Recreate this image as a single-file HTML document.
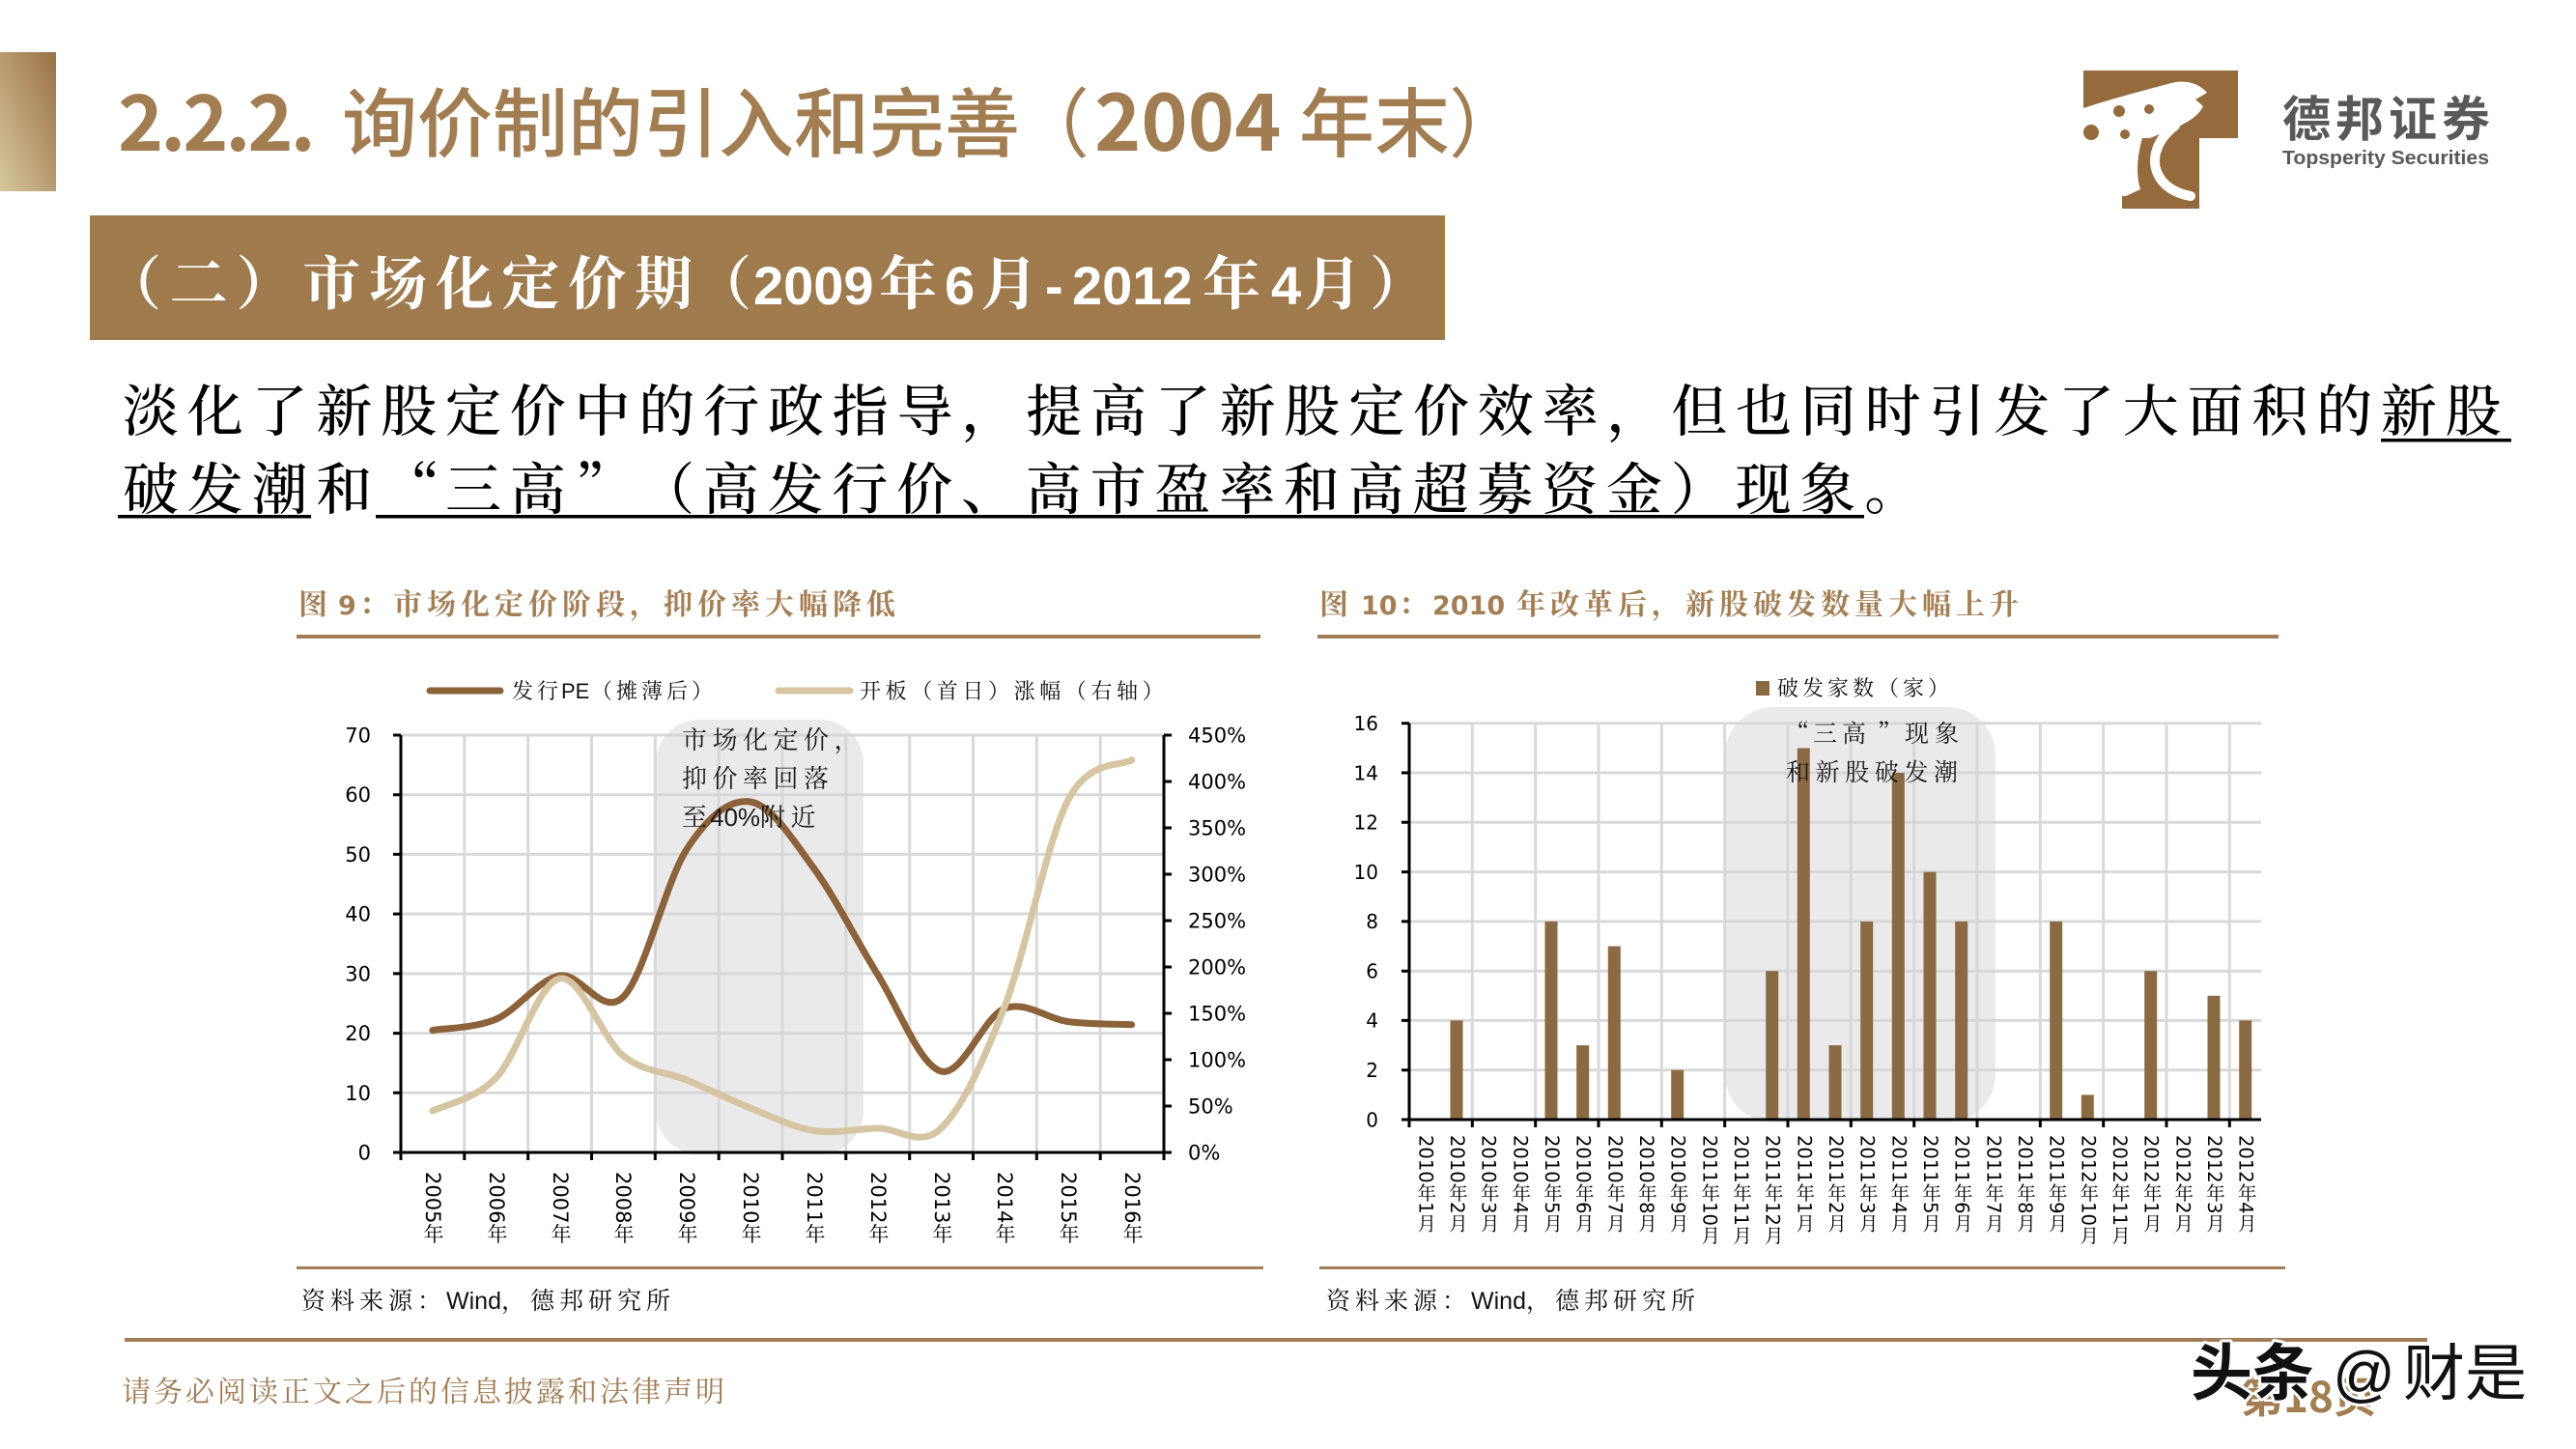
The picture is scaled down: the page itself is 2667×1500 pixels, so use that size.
<!DOCTYPE html>
<html><head><meta charset="utf-8">
<style>
html,body{margin:0;padding:0;background:#fff;}
#wrap{position:relative;width:2667px;height:1500px;overflow:hidden;background:#fff;}
.vl{position:absolute;writing-mode:vertical-rl;white-space:nowrap;font-family:"DejaVu Sans","Noto Serif CJK SC",serif;color:#000;}
.a{top:1213px;width:24px;line-height:24px;font-size:21px;}
.b{top:1175px;width:22px;line-height:22px;font-size:19.5px;}
</style></head>
<body><div id="wrap">
<svg width="2667" height="1500" viewBox="0 0 2667 1500" xmlns="http://www.w3.org/2000/svg" style="position:absolute;left:0;top:0">
<defs><linearGradient id="g1" x1="1" y1="0" x2="0" y2="1"><stop offset="0" stop-color="#9a7144"/><stop offset="1" stop-color="#d6c79f"/></linearGradient></defs>
<rect x="0" y="54" width="58" height="144" fill="url(#g1)"/>
<!-- Title -->
<g font-family="'Noto Sans CJK SC',sans-serif" fill="#a27d52">
<text x="122" y="156" font-size="80" font-weight="700" letter-spacing="-3">2.2.2.</text>
<text x="354" y="156" font-size="78" font-weight="500">询价制的引入和完善</text>
<text x="1128" y="156" font-size="78" text-anchor="end">（</text>
<text x="1133" y="156" font-size="82" font-weight="700">2004</text>
<text x="1345" y="156" font-size="78" font-weight="500">年末</text>
<text x="1500" y="156" font-size="78">）</text>
</g>
<!-- Logo -->
<path fill="#956a3d" d="M2157,73 H2317 V143 H2277 V216 H2197 V143 H2157 Z"/>
<path fill="#fff" d="M2157,112 C2190,101 2222,93 2248,86 C2262,82 2277,86 2285,96 L2273,103 L2281,110 C2276,120 2266,126 2255,131 L2226,143 L2157,143 Z"/>
<path fill="none" stroke="#fff" stroke-width="10" stroke-linecap="round" d="M2252,130 C2231,146 2224,170 2239,188 C2247,197 2257,201 2268,203"/>
<path fill="#fff" d="M2197,143 L2218,143 C2213,160 2211,180 2216,196 L2201,203 L2197,203 Z"/>
<g fill="#956a3d"><circle cx="2165" cy="137" r="8"/><circle cx="2194" cy="115" r="6"/><circle cx="2225" cy="113" r="5"/><circle cx="2200" cy="139" r="5"/></g>
<text x="2363" y="141" font-family="'Noto Sans CJK SC',sans-serif" font-weight="700" font-size="50" letter-spacing="5" fill="#595959">德邦证券</text>
<text x="2363" y="170" font-family="'Liberation Sans',sans-serif" font-weight="700" font-size="20" fill="#595959" textLength="214" lengthAdjust="spacingAndGlyphs">Topsperity Securities</text>
<!-- Subtitle bar -->
<rect x="93" y="223" width="1403" height="129" fill="#9e7a4d"/>
<g fill="#fff" font-weight="700">
<text x="107" y="315" font-family="'Noto Serif CJK SC',serif" font-size="60" letter-spacing="8.75">（二）市场化定价期</text>
<text x="778" y="315" font-family="'Noto Serif CJK SC',serif" font-size="60" text-anchor="end">（</text>
<text x="780" y="315" font-family="'Liberation Sans',sans-serif" font-size="56">2009</text>
<text x="910" y="315" font-family="'Noto Serif CJK SC',serif" font-size="60">年</text>
<text x="978" y="315" font-family="'Liberation Sans',sans-serif" font-size="56">6</text>
<text x="1015" y="315" font-family="'Noto Serif CJK SC',serif" font-size="60">月</text>
<text x="1082" y="315" font-family="'Liberation Sans',sans-serif" font-size="56">-</text>
<text x="1110" y="315" font-family="'Liberation Sans',sans-serif" font-size="56">2012</text>
<text x="1245" y="315" font-family="'Noto Serif CJK SC',serif" font-size="60">年</text>
<text x="1316" y="315" font-family="'Liberation Sans',sans-serif" font-size="56">4</text>
<text x="1350" y="315" font-family="'Noto Serif CJK SC',serif" font-size="60">月</text>
<text x="1418" y="315" font-family="'Noto Serif CJK SC',serif" font-size="60">）</text>
</g>
<!-- Body text -->
<g font-family="'Noto Serif CJK SC',serif" font-size="58" font-weight="500" fill="#000">
<text x="127" y="446" letter-spacing="8.8">淡化了新股定价中的行政指导，提高了新股定价效率，但也同时引发了大面积的新股</text>
<text x="127" y="527" letter-spacing="8.8">破发潮和</text>
<text x="455" y="527" text-anchor="end">“</text>
<text x="461" y="527" letter-spacing="8.8">三高</text>
<text x="596" y="527">”</text>
<text x="661" y="527" letter-spacing="8.8">（高发行价、高市盈率和高超募资金）现象。</text>
</g>
<rect x="2465" y="454" width="135" height="3.5" fill="#000"/>
<rect x="122" y="533" width="200" height="3.5" fill="#000"/>
<rect x="389" y="533" width="1541" height="3.5" fill="#000"/>

<!-- Chart titles -->
<g font-weight="700" fill="#a47f56">
<text x="309" y="636" font-family="'Noto Serif CJK SC',serif" font-size="30">图</text>
<text x="350" y="636" font-family="'DejaVu Sans',sans-serif" font-size="27">9</text>
<text x="372" y="636" font-family="'Noto Serif CJK SC',serif" font-size="30">：</text>
<text x="407" y="636" font-family="'Noto Serif CJK SC',serif" font-size="30" letter-spacing="5">市场化定价阶段，抑价率大幅降低</text>
<text x="1366" y="636" font-family="'Noto Serif CJK SC',serif" font-size="30">图</text>
<text x="1409" y="636" font-family="'DejaVu Sans',sans-serif" font-size="27">10</text>
<text x="1448" y="636" font-family="'Noto Serif CJK SC',serif" font-size="30">：</text>
<text x="1483" y="636" font-family="'DejaVu Sans',sans-serif" font-size="27">2010</text>
<text x="1570" y="636" font-family="'Noto Serif CJK SC',serif" font-size="30" letter-spacing="5">年改革后，新股破发数量大幅上升</text>
</g>
<g fill="#a17d59">
<rect x="307" y="657" width="998" height="4"/>
<rect x="1364" y="657" width="995" height="4"/>
<rect x="307" y="1311" width="1001" height="3"/>
<rect x="1366" y="1311" width="1000" height="3"/>
<rect x="129" y="1385" width="2384" height="4"/>
</g>

<!-- LEFT CHART -->
<g stroke="#d9d9d9" stroke-width="3">
<line x1="415" y1="1131.3" x2="1205" y2="1131.3"/>
<line x1="415" y1="1069.6" x2="1205" y2="1069.6"/>
<line x1="415" y1="1007.9" x2="1205" y2="1007.9"/>
<line x1="415" y1="946.1" x2="1205" y2="946.1"/>
<line x1="415" y1="884.4" x2="1205" y2="884.4"/>
<line x1="415" y1="822.7" x2="1205" y2="822.7"/>
<line x1="415" y1="761" x2="1205" y2="761"/>
<line x1="480.8" y1="761" x2="480.8" y2="1193"/>
<line x1="546.7" y1="761" x2="546.7" y2="1193"/>
<line x1="612.5" y1="761" x2="612.5" y2="1193"/>
<line x1="678.3" y1="761" x2="678.3" y2="1193"/>
<line x1="744.2" y1="761" x2="744.2" y2="1193"/>
<line x1="810" y1="761" x2="810" y2="1193"/>
<line x1="875.8" y1="761" x2="875.8" y2="1193"/>
<line x1="941.7" y1="761" x2="941.7" y2="1193"/>
<line x1="1007.5" y1="761" x2="1007.5" y2="1193"/>
<line x1="1073.3" y1="761" x2="1073.3" y2="1193"/>
<line x1="1139.2" y1="761" x2="1139.2" y2="1193"/>
</g>
<rect x="679" y="745" width="215" height="450" rx="45" ry="45" fill="#d6d6d6" fill-opacity="0.5"/>
<path fill="none" stroke="#8b6239" stroke-width="7" stroke-linecap="round" stroke-linejoin="round"
d="M447.9,1066.5 C458.9,1064.6 491.8,1064.4 513.7,1055 C535.6,1045.6 557.6,1013.8 579.5,1010 C601.4,1006.2 623.4,1053.8 645.3,1032 C667.2,1010.2 689.2,912.7 711.1,879 C733,845.3 755,826.7 776.9,830 C798.8,833.3 820.8,869.25 842.7,899 C864.6,928.75 886.6,973.5 908.5,1008.5 C930.4,1043.5 952.4,1103.1 974.3,1109 C996.2,1114.9 1018.2,1052.6 1040.1,1044 C1062,1035.4 1084,1054.8 1105.9,1057.6 C1127.8,1060.4 1160.7,1060.2 1171.7,1060.7"/>
<path fill="none" stroke="#d6c5a2" stroke-width="7" stroke-linecap="round" stroke-linejoin="round"
d="M447.9,1150 C458.9,1144.3 491.8,1138.4 513.7,1115.6 C535.6,1092.8 557.6,1016.8 579.5,1013 C601.4,1009.2 623.4,1075.5 645.3,1093 C667.2,1110.5 689.2,1109 711.1,1118 C733,1127 755,1138.25 776.9,1147 C798.8,1155.75 820.8,1167 842.7,1170.5 C864.6,1174 886.6,1168.4 908.5,1168 C930.4,1167.6 952.4,1189 974.3,1168 C996.2,1147 1018.2,1098.7 1040.1,1042 C1062,985.3 1084,870.5 1105.9,828 C1127.8,785.5 1160.7,793.7 1171.7,786.8"/>
<g stroke="#000" stroke-width="3" fill="none">
<line x1="415" y1="761" x2="415" y2="1194.5"/>
<line x1="1205" y1="761" x2="1205" y2="1194.5"/>
<line x1="413.5" y1="1193" x2="1206.5" y2="1193"/>
<path d="M407,761H415M407,822.7H415M407,884.4H415M407,946.1H415M407,1007.9H415M407,1069.6H415M407,1131.3H415M407,1193H415"/>
<path d="M1205,761H1213M1205,809H1213M1205,857H1213M1205,905H1213M1205,953H1213M1205,1001H1213M1205,1049H1213M1205,1097H1213M1205,1145H1213M1205,1193H1213"/>
<path d="M415,1193V1201M480.8,1193V1201M546.7,1193V1201M612.5,1193V1201M678.3,1193V1201M744.2,1193V1201M810,1193V1201M875.8,1193V1201M941.7,1193V1201M1007.5,1193V1201M1073.3,1193V1201M1139.2,1193V1201M1205,1193V1201"/>
</g>
<g font-family="'DejaVu Sans',sans-serif" font-size="21" fill="#000" text-anchor="end">
<text x="384" y="1200.5">0</text><text x="384" y="1138.8">10</text><text x="384" y="1077.1">20</text><text x="384" y="1015.4">30</text><text x="384" y="953.6">40</text><text x="384" y="891.9">50</text><text x="384" y="830.2">60</text><text x="384" y="768.5">70</text>
</g>
<g font-family="'DejaVu Sans',sans-serif" font-size="21" fill="#000">
<text x="1230" y="1200.5">0%</text><text x="1230" y="1152.5">50%</text><text x="1230" y="1104.5">100%</text><text x="1230" y="1056.5">150%</text><text x="1230" y="1008.5">200%</text><text x="1230" y="960.5">250%</text><text x="1230" y="912.5">300%</text><text x="1230" y="864.5">350%</text><text x="1230" y="816.5">400%</text><text x="1230" y="768.5">450%</text>
</g>
<!-- left legend -->
<line x1="445" y1="715" x2="518" y2="715" stroke="#8b6239" stroke-width="7" stroke-linecap="round"/>
<line x1="806" y1="715" x2="880" y2="715" stroke="#d6c5a2" stroke-width="7" stroke-linecap="round"/>
<g font-family="'Noto Serif CJK SC',serif" font-size="22" fill="#111">
<text x="530" y="723" letter-spacing="4">发行</text>
<text x="581" y="723" font-family="'Liberation Sans',sans-serif">PE</text>
<text x="612" y="723" letter-spacing="4">（摊薄后）</text>
<text x="890" y="723" letter-spacing="4.6">开板（首日）涨幅（右轴）</text>
</g>
<!-- left annotation -->
<g font-family="'Noto Serif CJK SC',serif" font-size="26" fill="#1a1a1a" letter-spacing="5.5">
<text x="706" y="775">市场化定价，</text>
<text x="706" y="815">抑价率回落</text>
<text x="706" y="855">至</text>
<text x="735" y="855" font-family="'Liberation Sans',sans-serif" letter-spacing="0">40%</text>
<text x="787" y="855">附近</text>
</g>

<!-- RIGHT CHART -->
<g stroke="#d9d9d9" stroke-width="3">
<line x1="1459" y1="1107.7" x2="2341" y2="1107.7"/>
<line x1="1459" y1="1056.4" x2="2341" y2="1056.4"/>
<line x1="1459" y1="1005.2" x2="2341" y2="1005.2"/>
<line x1="1459" y1="953.9" x2="2341" y2="953.9"/>
<line x1="1459" y1="902.6" x2="2341" y2="902.6"/>
<line x1="1459" y1="851.3" x2="2341" y2="851.3"/>
<line x1="1459" y1="800" x2="2341" y2="800"/>
<line x1="1459" y1="748.8" x2="2341" y2="748.8"/>
<line x1="1524.3" y1="748.8" x2="1524.3" y2="1159"/>
<line x1="1589.7" y1="748.8" x2="1589.7" y2="1159"/>
<line x1="1655" y1="748.8" x2="1655" y2="1159"/>
<line x1="1720.3" y1="748.8" x2="1720.3" y2="1159"/>
<line x1="1785.7" y1="748.8" x2="1785.7" y2="1159"/>
<line x1="1851" y1="748.8" x2="1851" y2="1159"/>
<line x1="1916.3" y1="748.8" x2="1916.3" y2="1159"/>
<line x1="1981.7" y1="748.8" x2="1981.7" y2="1159"/>
<line x1="2047" y1="748.8" x2="2047" y2="1159"/>
<line x1="2112.3" y1="748.8" x2="2112.3" y2="1159"/>
<line x1="2177.7" y1="748.8" x2="2177.7" y2="1159"/>
<line x1="2243" y1="748.8" x2="2243" y2="1159"/>
<line x1="2308.3" y1="748.8" x2="2308.3" y2="1159"/>
</g>
<rect x="1786" y="732" width="280" height="430" rx="50" ry="50" fill="#d6d6d6" fill-opacity="0.5"/>
<g fill="#8a6a42">
<rect x="1501.5" y="1056.4" width="13" height="102.6"/>
<rect x="1599.5" y="953.9" width="13" height="205.1"/>
<rect x="1632.2" y="1082.1" width="13" height="76.9"/>
<rect x="1664.8" y="979.5" width="13" height="179.5"/>
<rect x="1730.2" y="1107.7" width="13" height="51.3"/>
<rect x="1828.2" y="1005.2" width="13" height="153.8"/>
<rect x="1860.8" y="774.4" width="13" height="384.6"/>
<rect x="1893.5" y="1082.1" width="13" height="76.9"/>
<rect x="1926.2" y="953.9" width="13" height="205.1"/>
<rect x="1958.8" y="800" width="13" height="359"/>
<rect x="1991.5" y="902.6" width="13" height="256.4"/>
<rect x="2024.2" y="953.9" width="13" height="205.1"/>
<rect x="2122.2" y="953.9" width="13" height="205.1"/>
<rect x="2154.8" y="1133.4" width="13" height="25.6"/>
<rect x="2220.2" y="1005.2" width="13" height="153.8"/>
<rect x="2285.5" y="1030.8" width="13" height="128.2"/>
<rect x="2318.2" y="1056.4" width="13" height="102.6"/>
</g>
<g stroke="#000" stroke-width="3" fill="none">
<line x1="1459" y1="748.8" x2="1459" y2="1160.5"/>
<line x1="1457.5" y1="1159" x2="2341" y2="1159"/>
<path d="M1451,748.8H1459M1451,800H1459M1451,851.3H1459M1451,902.6H1459M1451,953.9H1459M1451,1005.2H1459M1451,1056.4H1459M1451,1107.7H1459M1451,1159H1459"/>
<path d="M1459,1159V1167M1524.3,1159V1167M1589.7,1159V1167M1655,1159V1167M1720.3,1159V1167M1785.7,1159V1167M1851,1159V1167M1916.3,1159V1167M1981.7,1159V1167M2047,1159V1167M2112.3,1159V1167M2177.7,1159V1167M2243,1159V1167M2308.3,1159V1167"/>
</g>
<g font-family="'DejaVu Sans',sans-serif" font-size="20" fill="#000" text-anchor="end">
<text x="1427" y="1166.3">0</text><text x="1427" y="1115">2</text><text x="1427" y="1063.7">4</text><text x="1427" y="1012.5">6</text><text x="1427" y="961.2">8</text><text x="1427" y="909.9">10</text><text x="1427" y="858.6">12</text><text x="1427" y="807.3">14</text><text x="1427" y="756.1">16</text>
</g>
<rect x="1818" y="705" width="14" height="15" fill="#8a6a42"/>
<text x="1840" y="720" font-family="'Noto Serif CJK SC',serif" font-size="22" letter-spacing="4" fill="#111">破发家数（家）</text>
<g font-family="'Noto Serif CJK SC',serif" font-size="25" fill="#1a1a1a">
<text x="1873" y="768" text-anchor="end">“</text>
<text x="1877" y="768" letter-spacing="5">三高</text>
<text x="1944" y="768">”</text>
<text x="1972" y="768" letter-spacing="6">现象</text>
<text x="1849" y="808" letter-spacing="5.6">和新股破发潮</text>
</g>

<!-- Sources -->
<g font-size="25" fill="#111">
<text x="312" y="1355"><tspan font-family="'Noto Serif CJK SC',serif" letter-spacing="5">资料来源：</tspan><tspan font-family="'Liberation Sans',sans-serif">Wind</tspan><tspan font-family="'Noto Serif CJK SC',serif" letter-spacing="5">，德邦研究所</tspan></text>
<text x="1373" y="1355"><tspan font-family="'Noto Serif CJK SC',serif" letter-spacing="5">资料来源：</tspan><tspan font-family="'Liberation Sans',sans-serif">Wind</tspan><tspan font-family="'Noto Serif CJK SC',serif" letter-spacing="5">，德邦研究所</tspan></text>
</g>
<!-- Footer -->
<text x="126" y="1451" font-family="'Noto Serif CJK SC',serif" font-size="30" letter-spacing="3" fill="#a07c55">请务必阅读正文之后的信息披露和法律声明</text>
<text x="2320" y="1462" font-family="'Noto Sans CJK SC',sans-serif" font-weight="700" font-size="44" fill="#a47e53">第18页</text>
<g font-family="'Noto Sans CJK SC',sans-serif" font-size="64" fill="#111" stroke="#fff" stroke-width="6" paint-order="stroke" stroke-linejoin="round">
<text x="2268" y="1444" font-weight="700">头条</text>
<text x="2415" y="1444" font-family="'Liberation Sans',sans-serif">@</text>
<text x="2488" y="1444">财是</text>
</g>
</svg>

<!-- left x labels -->
<div class="vl a" style="left:436px">2005年</div>
<div class="vl a" style="left:502px">2006年</div>
<div class="vl a" style="left:568px">2007年</div>
<div class="vl a" style="left:633px">2008年</div>
<div class="vl a" style="left:699px">2009年</div>
<div class="vl a" style="left:765px">2010年</div>
<div class="vl a" style="left:831px">2011年</div>
<div class="vl a" style="left:897px">2012年</div>
<div class="vl a" style="left:963px">2013年</div>
<div class="vl a" style="left:1028px">2014年</div>
<div class="vl a" style="left:1094px">2015年</div>
<div class="vl a" style="left:1160px">2016年</div>
<!-- right x labels -->
<div class="vl b" style="left:1464.3px">2010年1月</div>
<div class="vl b" style="left:1497px">2010年2月</div>
<div class="vl b" style="left:1529.7px">2010年3月</div>
<div class="vl b" style="left:1562.3px">2010年4月</div>
<div class="vl b" style="left:1595px">2010年5月</div>
<div class="vl b" style="left:1627.7px">2010年6月</div>
<div class="vl b" style="left:1660.3px">2010年7月</div>
<div class="vl b" style="left:1693px">2010年8月</div>
<div class="vl b" style="left:1725.7px">2010年9月</div>
<div class="vl b" style="left:1758.3px">2011年10月</div>
<div class="vl b" style="left:1791px">2011年11月</div>
<div class="vl b" style="left:1823.7px">2011年12月</div>
<div class="vl b" style="left:1856.3px">2011年1月</div>
<div class="vl b" style="left:1889px">2011年2月</div>
<div class="vl b" style="left:1921.7px">2011年3月</div>
<div class="vl b" style="left:1954.3px">2011年4月</div>
<div class="vl b" style="left:1987px">2011年5月</div>
<div class="vl b" style="left:2019.7px">2011年6月</div>
<div class="vl b" style="left:2052.3px">2011年7月</div>
<div class="vl b" style="left:2085px">2011年8月</div>
<div class="vl b" style="left:2117.7px">2011年9月</div>
<div class="vl b" style="left:2150.3px">2012年10月</div>
<div class="vl b" style="left:2183px">2012年11月</div>
<div class="vl b" style="left:2215.7px">2012年1月</div>
<div class="vl b" style="left:2248.3px">2012年2月</div>
<div class="vl b" style="left:2281px">2012年3月</div>
<div class="vl b" style="left:2313.7px">2012年4月</div>
</div></body></html>
